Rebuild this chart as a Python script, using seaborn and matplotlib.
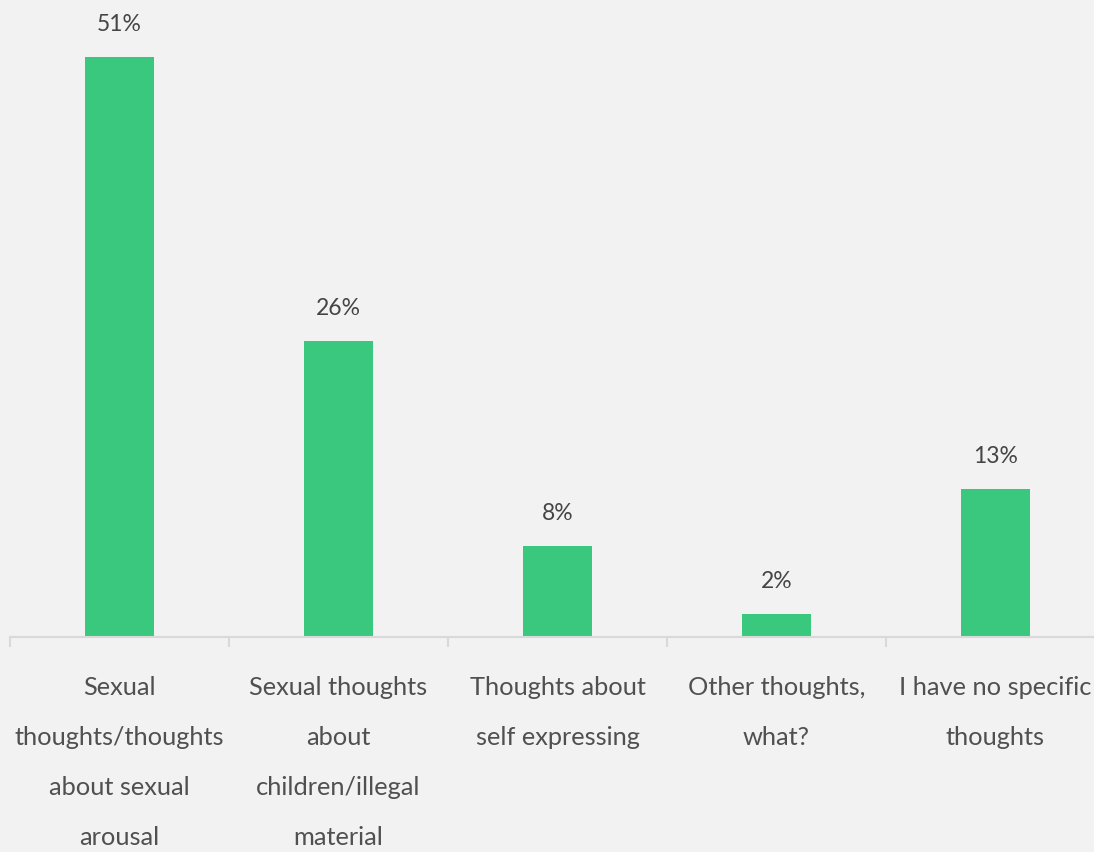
import matplotlib
matplotlib.use("Agg")
import matplotlib.pyplot as plt
import seaborn as sns
import pandas as pd
import numpy as np

categories = [
    "Sexual thoughts/thoughts about sexual arousal",
    "Sexual thoughts about children/illegal material",
    "Thoughts about self expressing",
    "Other thoughts, what?",
    "I have no specific thoughts",
]
values = [51, 26, 8, 2, 13]
tick_labels = [
    "Sexual\nthoughts/thoughts\nabout sexual\narousal",
    "Sexual thoughts\nabout\nchildren/illegal\nmaterial",
    "Thoughts about\nself expressing",
    "Other thoughts,\nwhat?",
    "I have no specific\nthoughts",
]

BG = "#f2f2f2"
BAR = "#3ac87e"
AXIS = "#d9d9d9"
TEXT = "#505050"

sns.set_theme(style="white")
plt.rcParams["font.family"] = ["Lato", "DejaVu Sans"]

W, H = 1094, 852
fig = plt.figure(figsize=(W / 100, H / 100), dpi=100, facecolor=BG)
ax = fig.add_axes([10 / W, 215 / H, 1095 / W, 637 / H], facecolor=BG)

df = pd.DataFrame({"category": categories, "value": values})
sns.barplot(data=df, x="category", y="value", color=BAR, width=0.315,
            saturation=1, ax=ax, edgecolor="none")

ax.set_xlim(-0.5, 4.5)
ax.set_ylim(0, 637 / 11.37)

for i, v in enumerate(values):
    ax.annotate(f"{v}%", (i, v), xytext=(0, 19), textcoords="offset points",
                ha="center", va="baseline", fontsize=16.5, color="#454545")

for s in ["top", "right", "left"]:
    ax.spines[s].set_visible(False)
ax.spines["bottom"].set_color(AXIS)
ax.spines["bottom"].set_linewidth(1.5)

ax.set_yticks([])
ax.set_xlabel("")
ax.set_ylabel("")
ax.set_xticks(range(len(values)))
ax.set_xticklabels(tick_labels, fontsize=18.3, color=TEXT, linespacing=2.42)
ax.tick_params(axis="x", which="major", bottom=True, length=0, pad=28)
ax.set_xticks(np.arange(-0.5, 4.5, 1.0), minor=True)
ax.tick_params(axis="x", which="minor", bottom=True, length=7.5, width=1.5,
               color=AXIS, direction="out")

fig.savefig("out.png", dpi=100, facecolor=BG)
